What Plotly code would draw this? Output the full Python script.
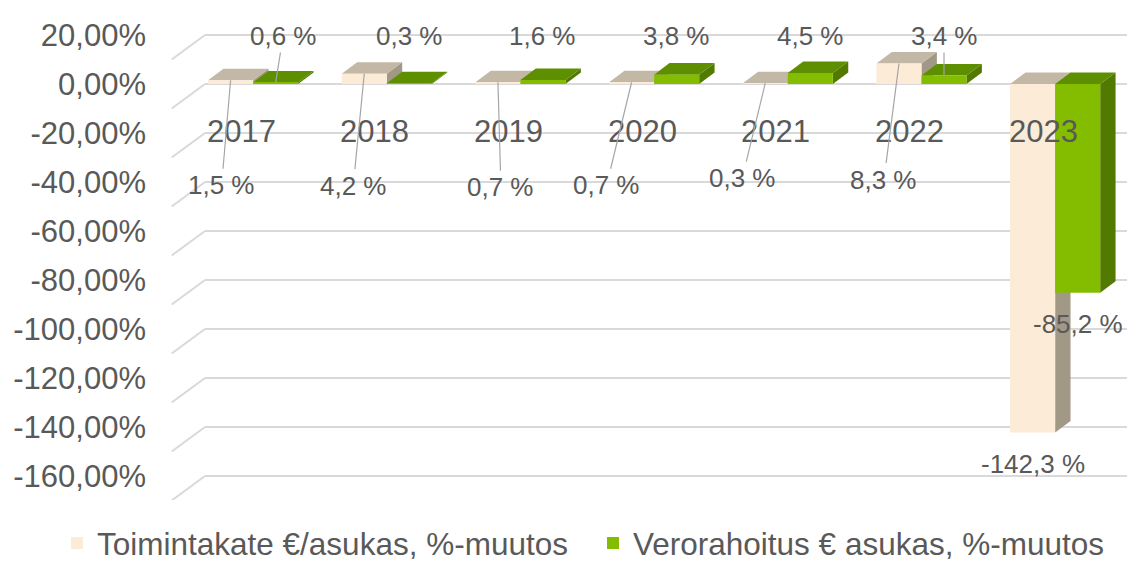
"""Toimintakate- ja verorahoitusmuutokset vuosittain (3D-tyylinen pylväskaavio)"""

import plotly.graph_objects as go

# Data
vuodet = [2017, 2018, 2019, 2020, 2021, 2022, 2023]
toimintakate = [1.5, 4.2, 0.7, 0.7, 0.3, 8.3, -142.3]
verorahoitus = [0.6, 0.3, 1.6, 3.8, 4.5, 3.4, -85.2]
y_tikit = [20, 0, -20, -40, -60, -80, -100, -120, -140, -160]

nimi_toim = "Toimintakate €/asukas, %-muutos"
nimi_vero = "Verorahoitus € asukas, %-muutos"

# Tyylit
FONTTI = "Liberation Sans, Arial, sans-serif"
HARMAA = "#595959"
BEIGE = {"etu": "#FCEBD6", "ylä": "#C3B8A5", "sivu": "#A29886"}
VIHREA = {"etu": "#84BD00", "ylä": "#5E8F00", "sivu": "#527A00"}
LEVEYS = 0.337   # pylvään leveys x-yksiköinä
SYV_X = 0.115    # 3D-syvyys x-suunnassa
SYV_Y = 4.7      # 3D-syvyys y-suunnassa
# toimintakate-tekstien siirrot (px) pylväästä
toim_siirrot = [(-9, 105), (-11, 112), (3, 105), (-25, 103), (-23, 95), (-15, 116)]
vero_viiva = [True, False, False, False, False, True]
vero_dx = [0.056, 0, 0, 0, 0, 0]
VERO_TASO = 19.6


def fmt(v):
    return f"{v:.1f} %".replace(".", ",")


def polku(pisteet):
    return "M " + " L ".join(f"{x},{y}" for x, y in pisteet) + " Z"


def syvyys_muodot(keskukset, arvot, varit):
    muodot = []
    for xc, v in zip(keskukset, arvot):
        x0, x1 = xc - LEVEYS / 2, xc + LEVEYS / 2
        yt = max(v, 0)
        yb = min(v, 0)
        ylä = [(x0, yt), (x1, yt), (x1 + SYV_X, yt + SYV_Y), (x0 + SYV_X, yt + SYV_Y)]
        sivu = [(x1, yb), (x1, yt), (x1 + SYV_X, yt + SYV_Y), (x1 + SYV_X, yb + SYV_Y)]
        for pts, vari in ((sivu, varit["sivu"]), (ylä, varit["ylä"])):
            muodot.append(dict(type="path", path=polku(pts), xref="x", yref="y",
                               fillcolor=vari, line=dict(width=0), layer="between"))
    return muodot


x_toim = [v - LEVEYS / 2 for v in vuodet]
x_vero = [v + LEVEYS / 2 for v in vuodet]

fig = go.Figure()
fig.add_trace(go.Bar(x=vuodet, y=toimintakate, name=nimi_toim, legend="legend",
                     marker=dict(color=BEIGE["etu"], line=dict(width=0))))
fig.add_trace(go.Bar(x=vuodet, y=verorahoitus, name=nimi_vero, legend="legend2",
                     marker=dict(color=VIHREA["etu"], line=dict(width=0))))

muodot = syvyys_muodot(x_toim, toimintakate, BEIGE) + syvyys_muodot(x_vero, verorahoitus, VIHREA)

# vinot apuviivat ruudukon vasemmassa reunassa
for t in y_tikit:
    muodot.append(dict(type="line", xref="paper", yref="y", x0=-0.036, y0=t - 10,
                       x1=0, y1=t, line=dict(color="#D9D9D9", width=2), layer="below"))

annot = []
for v in vuodet:
    annot.append(dict(x=v, y=-19.2, text=str(v), showarrow=False, xshift=-12,
                      font=dict(size=31, color=HARMAA)))

for i, (xc, v) in enumerate(zip(x_toim, toimintakate)):
    if v >= 0:
        ax, ay = toim_siirrot[i]
        annot.append(dict(x=xc, y=v, text=fmt(v), showarrow=True, arrowhead=0,
                          arrowwidth=1.2, arrowcolor="#A6A6A6", ax=ax, ay=ay,
                          font=dict(size=26, color=HARMAA)))
    else:
        annot.append(dict(x=xc, y=v, text=fmt(v), showarrow=False, yanchor="top",
                          yshift=-14, font=dict(size=26, color=HARMAA)))

for i, (xc, v) in enumerate(zip(x_vero, verorahoitus)):
    if v >= 0:
        if vero_viiva[i]:
            annot.append(dict(x=xc, y=v, text=fmt(v), showarrow=True, arrowhead=0,
                              arrowwidth=1.2, arrowcolor="#A6A6A6",
                              axref="x", ayref="y", ax=xc + vero_dx[i], ay=VERO_TASO,
                              font=dict(size=26, color=HARMAA)))
        else:
            annot.append(dict(x=xc + vero_dx[i], y=VERO_TASO, text=fmt(v), showarrow=False,
                              font=dict(size=26, color=HARMAA)))
    else:
        annot.append(dict(x=xc, y=v, text=fmt(v), showarrow=False, yanchor="top",
                          yshift=-14, font=dict(size=26, color=HARMAA)))

selite = dict(orientation="h", xref="container", yref="container", xanchor="left",
              y=0.048, yanchor="middle", font=dict(size=31.5, color=HARMAA),
              itemwidth=30, bgcolor="rgba(0,0,0,0)")

fig.update_layout(
    width=1135,
    height=562,
    barmode="group",
    bargap=0.326,
    bargroupgap=0,
    plot_bgcolor="white",
    paper_bgcolor="white",
    font=dict(family=FONTTI, color=HARMAA),
    margin=dict(l=197, r=13, t=12, b=70, autoexpand=False),
    shapes=muodot,
    annotations=annot,
    xaxis=dict(range=[2016.64, 2023.56], showticklabels=False, showgrid=False,
               zeroline=False, showline=False, fixedrange=True),
    yaxis=dict(range=[-169.8, 26.1], tickvals=y_tikit,
               ticktext=[f"{t:.2f}%".replace(".", ",") for t in y_tikit],
               tickfont=dict(size=31, color=HARMAA), ticklabelstandoff=58,
               showgrid=True, gridcolor="#D9D9D9", gridwidth=2,
               zeroline=False, showline=False),
    legend=dict(selite, x=49 / 1135),
    legend2=dict(selite, x=585 / 1135),
    showlegend=True,
)

fig.write_html("out.html")
